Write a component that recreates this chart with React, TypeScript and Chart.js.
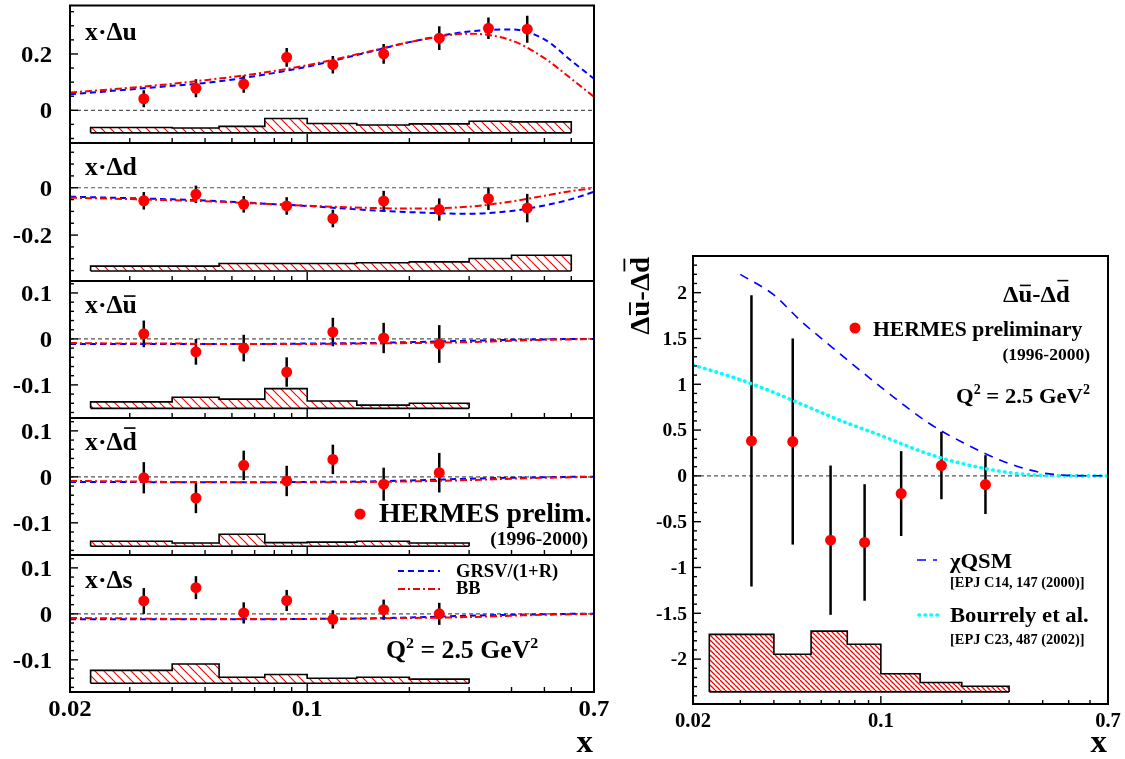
import React, { useEffect, useRef } from "react";
import { Chart, registerables } from "chart.js";
Chart.register(...registerables);

const PAGE_W = 1125;
const PAGE_H = 759;
const FONT = '"Liberation Serif", "Times New Roman", Times, serif';
const SX = 1.03;

// ---------- data ----------
const X_POINTS = [0.033, 0.047, 0.065, 0.087, 0.119, 0.168, 0.245, 0.342, 0.445];
const X_POINTS_SEA = [0.033, 0.047, 0.065, 0.087, 0.119, 0.168, 0.245];
const SYS_EDGES = [0.023, 0.04, 0.055, 0.075, 0.1, 0.14, 0.2, 0.3, 0.4, 0.6];
const SYS_EDGES_SEA = [0.023, 0.04, 0.055, 0.075, 0.1, 0.14, 0.2, 0.3];
const CURVE_X = [0.02, 0.03, 0.04, 0.05, 0.07, 0.1, 0.15, 0.2, 0.3, 0.4, 0.5, 0.6, 0.7];

const X_TICK_LABELS = [0.02, 0.1, 0.7];
const X_MAJOR_TICKS = [0.1];
const X_MINOR_TICKS = [0.03, 0.04, 0.05, 0.06, 0.07, 0.08, 0.09, 0.2, 0.3, 0.4, 0.5, 0.6];

// x·Δu
const DU_VAL = [0.041, 0.078, 0.093, 0.188, 0.162, 0.2, 0.256, 0.291, 0.288];
const DU_ERR = [0.03, 0.032, 0.031, 0.033, 0.031, 0.035, 0.042, 0.038, 0.048];
const DU_SYS = [0.019, 0.017, 0.023, 0.051, 0.033, 0.028, 0.032, 0.041, 0.039];
const DU_SYS_BASE = -0.08;
const DU_GRSV = [0.057, 0.074, 0.087, 0.097, 0.121, 0.155, 0.205, 0.242, 0.28, 0.287, 0.252, 0.176, 0.112];
const DU_BB = [0.063, 0.08, 0.094, 0.107, 0.129, 0.16, 0.207, 0.242, 0.272, 0.248, 0.185, 0.112, 0.048];

// x·Δd
const DD_VAL = [-0.055, -0.028, -0.07, -0.077, -0.13, -0.056, -0.092, -0.046, -0.086];
const DD_ERR = [0.037, 0.037, 0.035, 0.037, 0.037, 0.043, 0.047, 0.048, 0.06];
const DD_SYS = [0.021, 0.021, 0.032, 0.032, 0.032, 0.035, 0.039, 0.053, 0.067];
const DD_SYS_BASE = -0.352;
const DD_GRSV = [-0.038, -0.044, -0.049, -0.054, -0.065, -0.077, -0.094, -0.103, -0.11, -0.098, -0.075, -0.048, -0.017];
const DD_BB = [-0.042, -0.048, -0.053, -0.057, -0.066, -0.076, -0.085, -0.088, -0.08, -0.058, -0.034, -0.014, -0.002];

// x·Δū
const DUB_VAL = [0.011, -0.028, -0.02, -0.072, 0.015, 0.002, -0.011];
const DUB_ERR = [0.029, 0.028, 0.029, 0.032, 0.031, 0.033, 0.041];
const DUB_SYS = [0.014, 0.024, 0.02, 0.043, 0.016, 0.007, 0.011];
const DUB_GRSV = [-0.011, -0.011, -0.011, -0.011, -0.011, -0.01, -0.009, -0.007, -0.004, -0.002, -0.001, 0.0, 0.0];
const DUB_BB = [-0.009, -0.01, -0.01, -0.011, -0.011, -0.011, -0.01, -0.009, -0.007, -0.004, -0.002, -0.001, 0.0];

// x·Δd̄
const DDB_VAL = [-0.002, -0.046, 0.025, -0.009, 0.038, -0.016, 0.009];
const DDB_ERR = [0.034, 0.033, 0.032, 0.033, 0.032, 0.036, 0.043];
const DDB_SYS = [0.011, 0.007, 0.026, 0.008, 0.009, 0.011, 0.007];
const DDB_GRSV = [-0.011, -0.011, -0.012, -0.012, -0.012, -0.011, -0.01, -0.008, -0.004, -0.002, -0.001, 0.0, 0.0];
const DDB_BB = [-0.009, -0.01, -0.011, -0.011, -0.012, -0.012, -0.011, -0.01, -0.007, -0.004, -0.002, -0.001, 0.0];

// x·Δs
const DS_VAL = [0.028, 0.057, 0.002, 0.029, -0.012, 0.009, 0.0];
const DS_ERR = [0.028, 0.025, 0.023, 0.023, 0.02, 0.022, 0.024];
const DS_SYS = [0.028, 0.042, 0.013, 0.019, 0.011, 0.013, 0.009];
const DS_GRSV = [-0.012, -0.012, -0.012, -0.012, -0.012, -0.011, -0.01, -0.008, -0.004, -0.002, -0.001, 0.0, 0.0];
const DS_BB = [-0.009, -0.01, -0.011, -0.011, -0.011, -0.011, -0.01, -0.009, -0.007, -0.004, -0.002, -0.001, 0.0];

const SEA_SYS_BASE = -0.151;

// Δū - Δd̄
const R_VAL = [0.382, 0.375, -0.702, -0.727, -0.193, 0.113, -0.095];
const R_ERR = [1.59, 1.125, 0.815, 0.636, 0.463, 0.368, 0.321];
const R_SYS = [0.628, 0.411, 0.663, 0.521, 0.198, 0.102, 0.062];
const R_SYS_BASE = -2.358;
const QSM_X = [0.03, 0.04, 0.05, 0.07, 0.1, 0.15, 0.2, 0.3, 0.4, 0.5, 0.7];
const QSM_Y = [2.2, 1.975, 1.7, 1.34, 0.97, 0.58, 0.37, 0.135, 0.033, 0.006, 0.0];
const BOUR_X = [0.02, 0.03, 0.04, 0.05, 0.07, 0.1, 0.15, 0.2, 0.3, 0.4, 0.5, 0.7];
const BOUR_Y = [1.21, 1.05, 0.91, 0.79, 0.61, 0.44, 0.24, 0.135, 0.036, 0.005, 0.0, 0.0];

// ---------- styles ----------
const BLUE = "#0000ff";
const RED = "#ff0000";
const CYAN = "#00ffff";
const DASH_GRSV = [6, 4];
const DASH_BB = [7, 3, 2, 3];
const DASH_QSM = [9, 7];
const DASH_BOUR = [0.5, 5.5];

type Seg = { t: string; sup?: boolean; bar?: number };

function drawRich(
  ctx: CanvasRenderingContext2D,
  segs: Seg[],
  x: number,
  y: number,
  size: number,
  align: "left" | "right" | "center" = "left",
  color = "#000"
) {
  ctx.save();
  const parts: any[] = [];
  let w = 0;
  for (const sg of segs) {
    const s = sg.sup ? size * 0.62 : size;
    ctx.font = `bold ${s}px ${FONT}`;
    const tw = ctx.measureText(sg.t).width;
    parts.push({ ...sg, s, tw, x: w });
    w += tw;
  }
  const x0 = align === "left" ? x : align === "right" ? x - w * SX : x - (w * SX) / 2;
  ctx.translate(x0, y);
  ctx.scale(SX, 1);
  ctx.fillStyle = color;
  ctx.textBaseline = "alphabetic";
  ctx.textAlign = "left";
  const base = size * 0.33;
  for (const p of parts) {
    ctx.font = `bold ${p.s}px ${FONT}`;
    const by = p.sup ? base - size * 0.42 : base;
    ctx.fillText(p.t, p.x, by);
    if (p.bar) {
      ctx.fillRect(p.x + p.tw * 0.1, base - p.bar * size, p.tw * 0.8, Math.max(1.5, size * 0.065));
    }
  }
  ctx.restore();
}

function legendLine(ctx: CanvasRenderingContext2D, x1: number, x2: number, y: number, color: string, dash: number[], width: number, cap: CanvasLineCap = "butt") {
  ctx.save();
  ctx.strokeStyle = color;
  ctx.lineWidth = width;
  ctx.lineCap = cap;
  ctx.setLineDash(dash);
  ctx.beginPath();
  ctx.moveTo(x1, y);
  ctx.lineTo(x2, y);
  ctx.stroke();
  ctx.restore();
}

function dot(ctx: CanvasRenderingContext2D, x: number, y: number, r: number) {
  ctx.save();
  ctx.fillStyle = RED;
  ctx.beginPath();
  ctx.arc(x, y, r, 0, Math.PI * 2);
  ctx.fill();
  ctx.restore();
}

function makeHatch(spacing: number, lw: number, color: string) {
  const c = document.createElement("canvas");
  c.width = spacing;
  c.height = spacing;
  const g = c.getContext("2d")!;
  g.strokeStyle = color;
  g.lineWidth = lw;
  g.beginPath();
  for (const o of [-spacing, 0, spacing]) {
    g.moveTo(o, 0);
    g.lineTo(o + spacing, spacing);
  }
  g.stroke();
  return g.createPattern(c, "repeat");
}

type Curve = { x: number[]; y: number[]; color: string; dash: number[]; width: number; cap?: CanvasLineCap };

type Spec = {
  frame: { l: number; t: number; r: number; b: number };
  yMin: number;
  yMax: number;
  yMajor: number;
  yMinor: number;
  yLabelGap: number;
  yLabelSize: number;
  yMajorLen: number;
  yMinorLen: number;
  xMajorLen: number;
  xMinorLen: number;
  xLabels: boolean;
  xLabelY?: number;
  xLabelSize?: number;
  px: number[];
  py: number[];
  pe: number[];
  sysEdges: number[];
  sysH: number[];
  sysBase: number;
  hatch: number;
  curves: Curve[];
  markerR: number;
  errWidth: number;
  texts?: (ctx: CanvasRenderingContext2D) => void;
};

function fmt(v: number) {
  return String(Number(v.toFixed(3)));
}

function rootPlugin(spec: Spec) {
  return {
    id: "rootStyle",
    beforeDatasetsDraw(chart: any) {
      const { ctx, chartArea: a, scales } = chart;
      const x = scales.x;
      const y = scales.y;
      ctx.save();
      ctx.beginPath();
      ctx.rect(a.left, a.top, a.right - a.left, a.bottom - a.top);
      ctx.clip();
      const y0 = y.getPixelForValue(0);
      ctx.strokeStyle = "#555";
      ctx.lineWidth = 1.2;
      ctx.setLineDash([4, 3]);
      ctx.beginPath();
      ctx.moveTo(a.left, y0);
      ctx.lineTo(a.right, y0);
      ctx.stroke();
      ctx.setLineDash([]);
      ctx.strokeStyle = "#000";
      ctx.lineWidth = spec.errWidth;
      spec.px.forEach((xv, i) => {
        const p = x.getPixelForValue(xv);
        ctx.beginPath();
        ctx.moveTo(p, y.getPixelForValue(spec.py[i] - spec.pe[i]));
        ctx.lineTo(p, y.getPixelForValue(spec.py[i] + spec.pe[i]));
        ctx.stroke();
      });
      ctx.restore();
    },
    afterDraw(chart: any) {
      const { ctx, chartArea: a, scales } = chart;
      const x = scales.x;
      const y = scales.y;
      ctx.save();
      ctx.strokeStyle = "#000";
      ctx.lineWidth = 2;
      ctx.strokeRect(a.left, a.top, a.right - a.left, a.bottom - a.top);
      ctx.lineWidth = 1.4;
      const k0 = Math.ceil(spec.yMin / spec.yMinor - 1e-9);
      const k1 = Math.floor(spec.yMax / spec.yMinor + 1e-9);
      for (let k = k0; k <= k1; k++) {
        const v = k * spec.yMinor;
        const r = v / spec.yMajor;
        const major = Math.abs(r - Math.round(r)) < 1e-6;
        const p = y.getPixelForValue(v);
        const len = major ? spec.yMajorLen : spec.yMinorLen;
        ctx.beginPath();
        ctx.moveTo(a.left, p);
        ctx.lineTo(a.left + len, p);
        ctx.stroke();
        if (major) drawRich(ctx, [{ t: fmt(v) }], a.left - spec.yLabelGap, p, spec.yLabelSize, "right");
      }
      for (const v of X_MINOR_TICKS) {
        const p = x.getPixelForValue(v);
        ctx.beginPath();
        ctx.moveTo(p, a.bottom);
        ctx.lineTo(p, a.bottom - spec.xMinorLen);
        ctx.stroke();
      }
      for (const v of X_MAJOR_TICKS) {
        const p = x.getPixelForValue(v);
        ctx.beginPath();
        ctx.moveTo(p, a.bottom);
        ctx.lineTo(p, a.bottom - spec.xMajorLen);
        ctx.stroke();
      }
      if (spec.xLabels) {
        for (const v of X_TICK_LABELS) {
          drawRich(ctx, [{ t: String(v) }], x.getPixelForValue(v), spec.xLabelY!, spec.xLabelSize!, "center");
        }
      }
      if (spec.texts) spec.texts(ctx);
      ctx.restore();
    },
  };
}

function makeConfig(spec: Spec): any {
  const datasets: any[] = [];
  const e = spec.sysEdges;
  const h = spec.sysH;
  const b = spec.sysBase;
  const band: { x: number; y: number }[] = [{ x: e[0], y: b }];
  h.forEach((hv, i) => band.push({ x: e[i], y: b + hv }));
  band.push({ x: e[e.length - 1], y: b + h[h.length - 1] });
  band.push({ x: e[e.length - 1], y: b });
  datasets.push({
    data: band,
    stepped: "before",
    fill: { value: b },
    backgroundColor: makeHatch(spec.hatch, spec.hatch > 6 ? 1.2 : 1.3, RED),
    borderColor: "#000",
    borderWidth: 1.6,
    pointRadius: 0,
    order: 10,
  });
  datasets.push({
    data: [
      { x: e[0], y: b },
      { x: e[e.length - 1], y: b },
    ],
    borderColor: "#000",
    borderWidth: 1.6,
    pointRadius: 0,
    fill: false,
    order: 9,
  });
  spec.curves.forEach((c) =>
    datasets.push({
      data: c.x.map((xv, i) => ({ x: xv, y: c.y[i] })),
      borderColor: c.color,
      borderWidth: c.width,
      borderDash: c.dash,
      borderCapStyle: c.cap || "butt",
      pointRadius: 0,
      fill: false,
      cubicInterpolationMode: "monotone",
      order: 5,
    })
  );
  datasets.push({
    data: spec.px.map((xv, i) => ({ x: xv, y: spec.py[i] })),
    showLine: false,
    pointRadius: spec.markerR,
    pointBackgroundColor: RED,
    pointBorderColor: RED,
    pointBorderWidth: 0,
    order: 1,
  });
  return {
    type: "line",
    data: { datasets },
    options: {
      responsive: false,
      maintainAspectRatio: false,
      animation: false,
      devicePixelRatio: 1,
      events: [],
      layout: {
        padding: {
          left: spec.frame.l,
          top: spec.frame.t,
          right: PAGE_W - spec.frame.r,
          bottom: PAGE_H - spec.frame.b,
        },
      },
      scales: {
        x: { type: "logarithmic", min: 0.02, max: 0.7, display: false },
        y: { type: "linear", min: spec.yMin, max: spec.yMax, display: false },
      },
      plugins: { legend: { display: false }, tooltip: { enabled: false } },
    },
    plugins: [rootPlugin(spec)],
  };
}

const LEFT_COMMON = {
  yLabelGap: 18,
  yLabelSize: 24,
  yMajorLen: 8,
  yMinorLen: 4,
  xMajorLen: 9,
  xMinorLen: 5,
  hatch: 9,
  markerR: 5.5,
  errWidth: 2.5,
};

function leftCurves(g: number[], bb: number[]): Curve[] {
  return [
    { x: CURVE_X, y: bb, color: RED, dash: DASH_BB, width: 2 },
    { x: CURVE_X, y: g, color: BLUE, dash: DASH_GRSV, width: 2 },
  ];
}

const SPECS: Spec[] = [
  {
    ...LEFT_COMMON,
    frame: { l: 70, t: 4, r: 594, b: 143 },
    yMin: -0.116,
    yMax: 0.372,
    yMajor: 0.2,
    yMinor: 0.05,
    xLabels: false,
    px: X_POINTS,
    py: DU_VAL,
    pe: DU_ERR,
    sysEdges: SYS_EDGES,
    sysH: DU_SYS,
    sysBase: DU_SYS_BASE,
    curves: leftCurves(DU_GRSV, DU_BB),
    texts: (ctx) => drawRich(ctx, [{ t: "x·Δu" }], 85, 31.5, 25),
  },
  {
    ...LEFT_COMMON,
    frame: { l: 70, t: 143, r: 594, b: 281 },
    yMin: -0.394,
    yMax: 0.189,
    yMajor: 0.2,
    yMinor: 0.05,
    xLabels: false,
    px: X_POINTS,
    py: DD_VAL,
    pe: DD_ERR,
    sysEdges: SYS_EDGES,
    sysH: DD_SYS,
    sysBase: DD_SYS_BASE,
    curves: leftCurves(DD_GRSV, DD_BB),
    texts: (ctx) => drawRich(ctx, [{ t: "x·Δd" }], 85, 166.5, 25),
  },
  {
    ...LEFT_COMMON,
    frame: { l: 70, t: 281, r: 594, b: 418 },
    yMin: -0.172,
    yMax: 0.126,
    yMajor: 0.1,
    yMinor: 0.02,
    xLabels: false,
    px: X_POINTS_SEA,
    py: DUB_VAL,
    pe: DUB_ERR,
    sysEdges: SYS_EDGES_SEA,
    sysH: DUB_SYS,
    sysBase: SEA_SYS_BASE,
    curves: leftCurves(DUB_GRSV, DUB_BB),
    texts: (ctx) => drawRich(ctx, [{ t: "x·Δ" }, { t: "u", bar: 0.72 }], 85, 305, 25),
  },
  {
    ...LEFT_COMMON,
    frame: { l: 70, t: 418, r: 594, b: 555 },
    yMin: -0.17,
    yMax: 0.128,
    yMajor: 0.1,
    yMinor: 0.02,
    xLabels: false,
    px: X_POINTS_SEA,
    py: DDB_VAL,
    pe: DDB_ERR,
    sysEdges: SYS_EDGES_SEA,
    sysH: DDB_SYS,
    sysBase: SEA_SYS_BASE,
    curves: leftCurves(DDB_GRSV, DDB_BB),
    texts: (ctx) => {
      drawRich(ctx, [{ t: "x·Δ" }, { t: "d", bar: 0.92 }], 85, 442, 25);
      dot(ctx, 360, 514, 5.5);
      drawRich(ctx, [{ t: "HERMES prelim." }], 379, 513, 27);
      drawRich(ctx, [{ t: "(1996-2000)" }], 588, 539, 19, "right");
    },
  },
  {
    ...LEFT_COMMON,
    frame: { l: 70, t: 555, r: 594, b: 692 },
    yMin: -0.17,
    yMax: 0.128,
    yMajor: 0.1,
    yMinor: 0.02,
    xLabels: true,
    xLabelY: 708,
    xLabelSize: 24,
    px: X_POINTS_SEA,
    py: DS_VAL,
    pe: DS_ERR,
    sysEdges: SYS_EDGES_SEA,
    sysH: DS_SYS,
    sysBase: SEA_SYS_BASE,
    curves: leftCurves(DS_GRSV, DS_BB),
    texts: (ctx) => {
      drawRich(ctx, [{ t: "x·Δs" }], 85, 580, 25);
      legendLine(ctx, 398, 440, 571, BLUE, DASH_GRSV, 2);
      drawRich(ctx, [{ t: "GRSV/(1+R)" }], 456, 571, 18);
      legendLine(ctx, 398, 440, 589, RED, DASH_BB, 2);
      drawRich(ctx, [{ t: "BB" }], 456, 588, 18);
      drawRich(ctx, [{ t: "Q" }, { t: "2", sup: true }, { t: " = 2.5 GeV" }, { t: "2", sup: true }], 386, 650, 25);
      drawRich(ctx, [{ t: "x" }], 593, 741, 32, "right");
    },
  },
  {
    frame: { l: 693, t: 256, r: 1108, b: 704 },
    yMin: -2.49,
    yMax: 2.4,
    yMajor: 0.5,
    yMinor: 0.1,
    yLabelGap: 6,
    yLabelSize: 19,
    yMajorLen: 8,
    yMinorLen: 4,
    xMajorLen: 8,
    xMinorLen: 4,
    xLabels: true,
    xLabelY: 720,
    xLabelSize: 20,
    hatch: 5,
    markerR: 5.5,
    errWidth: 2.5,
    px: X_POINTS_SEA,
    py: R_VAL,
    pe: R_ERR,
    sysEdges: SYS_EDGES_SEA,
    sysH: R_SYS,
    sysBase: R_SYS_BASE,
    curves: [
      { x: QSM_X, y: QSM_Y, color: BLUE, dash: DASH_QSM, width: 1.6 },
      { x: BOUR_X, y: BOUR_Y, color: CYAN, dash: DASH_BOUR, width: 3.6, cap: "round" },
    ],
    texts: (ctx) => {
      drawRich(ctx, [{ t: "Δ" }, { t: "u", bar: 0.72 }, { t: "-Δ" }, { t: "d", bar: 0.92 }], 1003, 294, 24);
      dot(ctx, 855, 328, 5.5);
      drawRich(ctx, [{ t: "HERMES preliminary" }], 873, 329, 21);
      drawRich(ctx, [{ t: "(1996-2000)" }], 1090, 354, 17, "right");
      drawRich(ctx, [{ t: "Q" }, { t: "2", sup: true }, { t: " = 2.5 GeV" }, { t: "2", sup: true }], 1090, 396, 22, "right");
      legendLine(ctx, 917, 937, 560, BLUE, DASH_QSM, 1.6);
      drawRich(ctx, [{ t: "χQSM" }], 950, 561, 22);
      drawRich(ctx, [{ t: "[EPJ C14, 147 (2000)]" }], 950, 582, 14);
      legendLine(ctx, 919, 940, 615, CYAN, DASH_BOUR, 3.6, "round");
      drawRich(ctx, [{ t: "Bourrely et al." }], 950, 615, 22);
      drawRich(ctx, [{ t: "[EPJ C23, 487 (2002)]" }], 950, 639, 14);
      drawRich(ctx, [{ t: "x" }], 1107, 741, 32, "right");
      ctx.save();
      ctx.translate(640, 257);
      ctx.rotate(-Math.PI / 2);
      drawRich(ctx, [{ t: "Δ" }, { t: "u", bar: 0.72 }, { t: "-Δ" }, { t: "d", bar: 0.92 }], 0, 0, 28, "right");
      ctx.restore();
    },
  },
];

function ChartCanvas({ spec }: { spec: Spec }) {
  const ref = useRef<HTMLCanvasElement>(null);
  useEffect(() => {
    const chart = new Chart(ref.current!, makeConfig(spec));
    return () => chart.destroy();
  }, [spec]);
  return (
    <canvas
      ref={ref}
      width={PAGE_W}
      height={PAGE_H}
      style={{ position: "absolute", left: 0, top: 0, width: PAGE_W, height: PAGE_H }}
    />
  );
}

export default function App() {
  return (
    <div style={{ position: "absolute", left: 0, top: 0, width: PAGE_W, height: PAGE_H, background: "#fff", overflow: "hidden" }}>
      {SPECS.map((s, i) => (
        <ChartCanvas key={i} spec={s} />
      ))}
    </div>
  );
}
